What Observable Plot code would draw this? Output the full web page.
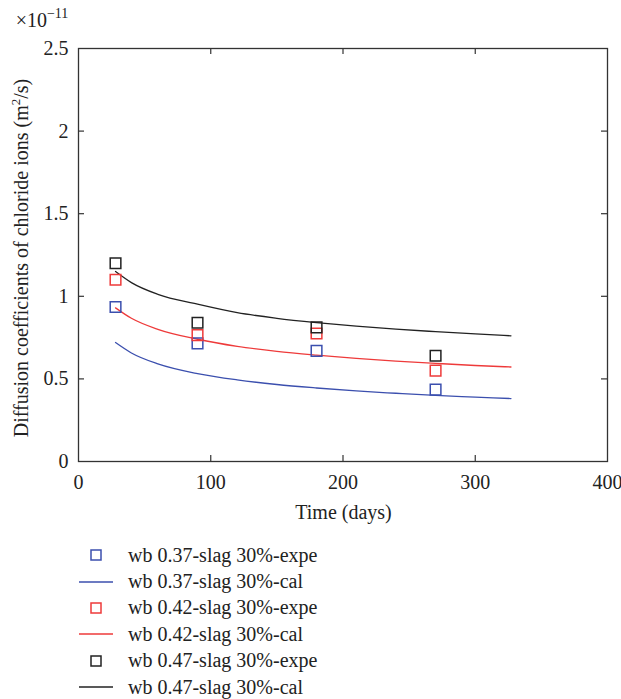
<!DOCTYPE html>
<html>
<head>
<meta charset="utf-8">
<script src="https://cdn.jsdelivr.net/npm/d3@7"></script>
<script src="https://cdn.jsdelivr.net/npm/@observablehq/plot@0.6"></script>
<style>
  body { margin: 0; background: #fff; font-family: "Liberation Serif", "DejaVu Serif", serif; }
  #chart svg { display: block; }
  #legend { padding-top: 12px; font-size: 20px; color: #222; }
  .row { display: flex; align-items: center; height: 26.4px; }
  .row svg { display: block; margin-left: 78px; margin-right: 14px; }
</style>
</head>
<body>
<div id="chart"></div>
<div id="legend"></div>
<script>
// Experimental points
const expeDays = [28, 90, 180, 270];
const expe037 = [0.935, 0.715, 0.67, 0.435];
const expe042 = [1.10, 0.765, 0.775, 0.55];
const expe047 = [1.20, 0.84, 0.812, 0.64];

// Calculated curves
const calDays = [28, 40, 60, 90, 120, 150, 180, 210, 240, 270, 300, 327];
const cal037 = [0.72, 0.657, 0.591, 0.532, 0.494, 0.466, 0.445, 0.427, 0.413, 0.400, 0.390, 0.381];
const cal042 = [0.93, 0.867, 0.800, 0.740, 0.697, 0.667, 0.644, 0.624, 0.608, 0.594, 0.581, 0.572];
const cal047 = [1.15, 1.083, 1.012, 0.952, 0.901, 0.867, 0.841, 0.819, 0.801, 0.786, 0.772, 0.761];

const seriesNames = ["wb 0.37-slag 30%", "wb 0.42-slag 30%", "wb 0.47-slag 30%"];
const seriesColors = ["#3b4fae", "#ee3a3a", "#222222"];

const xTicks = [0, 100, 200, 300, 400];
const yTicks = [0, 0.5, 1, 1.5, 2, 2.5];
const yTickLabels = ["0", "0.5", "1", "1.5", "2", "2.5"];

const expeSets = [expe037, expe042, expe047];
const calSets = [cal037, cal042, cal047];

const pts = expeSets.flatMap((vals, s) => vals.map((v, i) => ({day: expeDays[i], value: v, series: seriesNames[s]})));
const curves = calSets.flatMap((vals, s) => vals.map((v, i) => ({day: calDays[i], value: v, series: seriesNames[s]})));

const W = 621, H = 530, mL = 78, mR = 14, mT = 48, mB = 69;
const innerW = W - mL - mR, innerH = H - mT - mB;
const tickLen = 6;

const plot = Plot.plot({
  width: W, height: H,
  marginLeft: mL, marginRight: mR, marginTop: mT, marginBottom: mB,
  style: {fontFamily: '"Liberation Serif", serif', fontSize: "20px", color: "#222", background: "#fff"},
  x: {domain: [0, 400], ticks: xTicks},
  y: {domain: [0, 2.5], ticks: yTicks},
  color: {domain: seriesNames, range: seriesColors},
  marks: [
    Plot.axisX({ticks: xTicks, tickSize: 0, tickPadding: 13, label: null, fontSize: 20}),
    Plot.axisY({ticks: yTicks, tickFormat: (d) => yTickLabels[yTicks.indexOf(d)], tickSize: 0, tickPadding: 10, label: null, fontSize: 20}),
    // inward ticks on all four sides
    Plot.tickX(xTicks.slice(1, -1), {x: d => d, insetTop: innerH - tickLen, stroke: "#333", strokeWidth: 1.2}),
    Plot.tickX(xTicks.slice(1, -1), {x: d => d, insetBottom: innerH - tickLen, stroke: "#333", strokeWidth: 1.2}),
    Plot.tickY(yTicks.slice(1, -1), {y: d => d, insetRight: innerW - tickLen, stroke: "#333", strokeWidth: 1.2}),
    Plot.tickY(yTicks.slice(1, -1), {y: d => d, insetLeft: innerW - tickLen, stroke: "#333", strokeWidth: 1.2}),
    Plot.line(curves, {x: "day", y: "value", z: "series", stroke: "series", strokeWidth: 1.3, curve: "monotone-x"}),
    Plot.dot(pts, {x: "day", y: "value", stroke: "series", symbol: "square", r: 6, strokeWidth: 1.5, fill: "none"}),
    Plot.frame({stroke: "#333", strokeWidth: 1.3})
  ]
});
document.getElementById("chart").appendChild(plot);

const svg = d3.select(plot);
// x label
svg.append("text").attr("x", mL + innerW / 2 + 1).attr("y", 519)
  .attr("text-anchor", "middle").attr("font-size", 20).attr("fill", "#222")
  .text("Time (days)");
// y label
const yl = svg.append("text").attr("transform", `translate(28,258) rotate(-90)`)
  .attr("text-anchor", "middle").attr("font-size", 20).attr("fill", "#222");
yl.append("tspan").text("Diffusion coefficients of chloride ions (m");
yl.append("tspan").attr("font-size", 13).attr("dy", -8).text("2");
yl.append("tspan").attr("dy", 8).text("/s)");
// exponent
const ex = svg.append("text").attr("x", 42).attr("y", 27).attr("font-size", 20).attr("fill", "#222");
ex.append("tspan").text("×10");
ex.append("tspan").attr("font-size", 14).attr("dy", -9).text("−11");

// legend
const legend = d3.select("#legend");
seriesNames.forEach((name, s) => {
  ["expe", "cal"].forEach(kind => {
    const row = legend.append("div").attr("class", "row");
    const sw = row.append("svg").attr("width", 36).attr("height", 20);
    if (kind === "expe") {
      sw.append("rect").attr("x", 13).attr("y", 5).attr("width", 10).attr("height", 10)
        .attr("fill", "none").attr("stroke", seriesColors[s]).attr("stroke-width", 1.5);
    } else {
      sw.append("line").attr("x1", 1).attr("x2", 35).attr("y1", 10).attr("y2", 10)
        .attr("stroke", seriesColors[s]).attr("stroke-width", 1.5);
    }
    row.append("span").text(`${name}-${kind}`);
  });
});
</script>
</body>
</html>
